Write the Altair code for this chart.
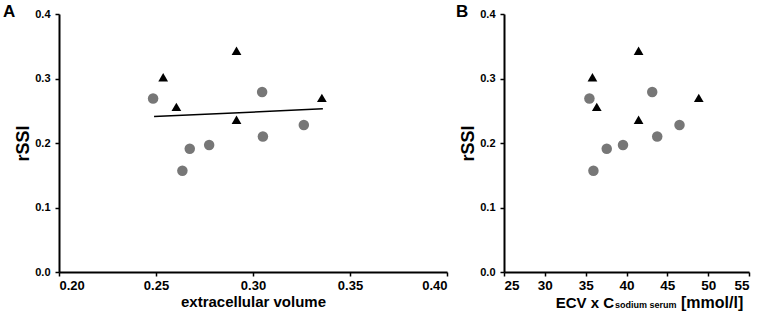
import altair as alt
import pandas as pd

FONT = "Liberation Sans"

# ---- data ----
circ_ecv = [0.2485, 0.2636, 0.2674, 0.2774, 0.3047, 0.3051, 0.3262]
circ_conc = [35.46, 35.95, 37.58, 39.57, 43.15, 43.76, 46.49]
circ_rssi = [0.269, 0.157, 0.191, 0.197, 0.279, 0.210, 0.228]

tri_ecv = [0.2537, 0.2605, 0.2915, 0.2915, 0.3355]
tri_conc = [35.83, 36.36, 41.48, 41.48, 48.85]
tri_rssi = [0.302, 0.256, 0.343, 0.236, 0.270]

fit_ecv = [0.249, 0.336]
fit_rssi = [0.241, 0.253]

x_ticks_a = [0.20, 0.25, 0.30, 0.35, 0.40]
x_ticks_b = [25, 30, 35, 40, 45, 50, 55]
y_ticks = [0.0, 0.1, 0.2, 0.3, 0.4]

W_A, W_B, H = 388, 245, 258

circ_a = pd.DataFrame({"x": circ_ecv, "y": circ_rssi})
tri_a = pd.DataFrame({"x": tri_ecv, "y": tri_rssi})
fit_a = pd.DataFrame({"x": fit_ecv, "y": fit_rssi})
circ_b = pd.DataFrame({"x": circ_conc, "y": circ_rssi})
tri_b = pd.DataFrame({"x": tri_conc, "y": tri_rssi})

yenc = alt.Y("y:Q", scale=alt.Scale(domain=[0, 0.4], nice=False),
             axis=alt.Axis(values=y_ticks, format=".1f", title="rSSI"))

xa = alt.X("x:Q", scale=alt.Scale(domain=[0.2, 0.4], nice=False, zero=False),
           axis=alt.Axis(values=x_ticks_a, format=".2f", title="extracellular volume"))
xb = alt.X("x:Q", scale=alt.Scale(domain=[25, 55], nice=False, zero=False),
           axis=alt.Axis(values=x_ticks_b, format="d", title=None,
                         labelFontSize=13.5, labelPadding=2))


def txt(s, x, y, size, align="left"):
    return alt.Chart(alt.Data(values=[{"t": s}])).mark_text(
        align=align, baseline="alphabetic", fontSize=size, fontWeight="bold",
        font=FONT, color="black"
    ).encode(text="t:N", x=alt.value(x), y=alt.value(y))


def pts(df, xenc, shape, color, size):
    return alt.Chart(df).mark_point(shape=shape, filled=True, color=color,
                                    size=size, opacity=1).encode(xenc, yenc)


panel_a = alt.layer(
    alt.Chart(fit_a).mark_line(color="black", strokeWidth=1.5).encode(xa, yenc),
    pts(circ_a, xa, "circle", "#777777", 110),
    pts(tri_a, xa, "triangle-up", "black", 95),
    txt("A", -56, 3, 17),
).properties(width=W_A, height=H)

panel_b = alt.layer(
    pts(circ_b, xb, "circle", "#777777", 110),
    pts(tri_b, xb, "triangle-up", "black", 95),
    txt("B", -48, 3, 17),
    txt("ECV x C", 110, 294, 15, "right"),
    txt("sodium serum", 111, 294, 9),
    txt("[mmol/l]", 177, 294, 16),
).properties(width=W_B, height=H)

chart = alt.hconcat(panel_a, panel_b, spacing=57, bounds="flush").properties(
    padding={"left": 3, "top": 3, "right": 5, "bottom": 3}
).configure_view(strokeWidth=0).configure_axis(
    domainColor="black", domainWidth=2, tickColor="black", tickWidth=1.5,
    tickSize=4, grid=False, labelFont=FONT, labelFontWeight="bold",
    labelColor="black", titleFont=FONT, titleFontWeight="bold", titleColor="black",
).configure_axisX(
    labelFontSize=13, labelPadding=3, titleFontSize=15, titlePadding=2
).configure_axisY(
    labelFontSize=11, labelPadding=5, titleFontSize=18, titlePadding=2
)

chart.save("out.html", embed_options={"renderer": "svg", "actions": False})
